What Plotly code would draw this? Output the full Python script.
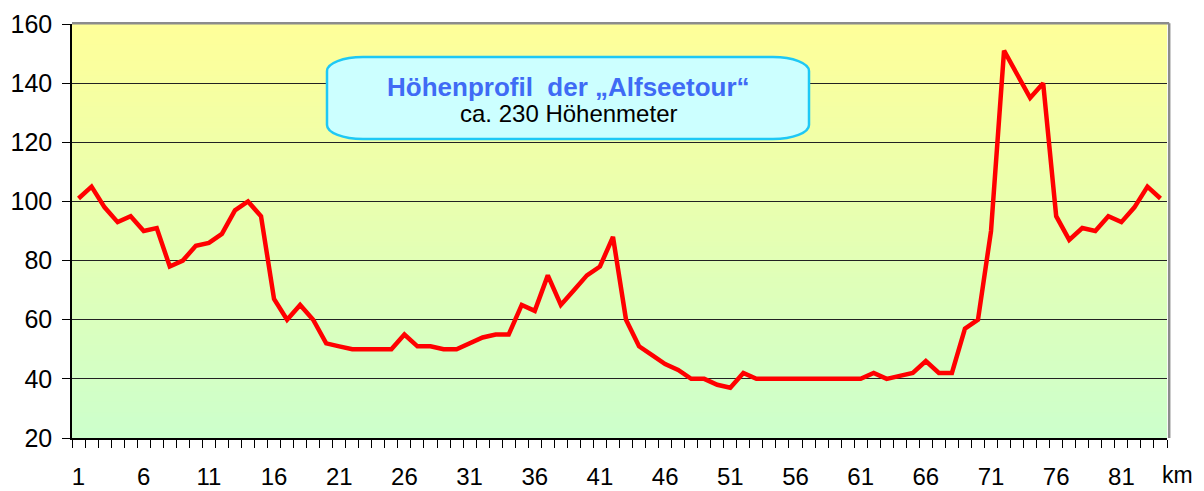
import plotly.graph_objects as go

# ---- data ----
km = list(range(1, 85))
elevation = [101, 105, 98, 93, 95, 90, 91, 78, 80, 85,
             86, 89, 97, 100, 95, 67, 60, 65, 60, 52,
             51, 50, 50, 50, 50, 55, 51, 51, 50, 50,
             52, 54, 55, 55, 65, 63, 75, 65, 70, 75,
             78, 88, 60, 51, 48, 45, 43, 40, 40, 38,
             37, 42, 40, 40, 40, 40, 40, 40, 40, 40,
             40, 42, 40, 41, 42, 46, 42, 42, 57, 60,
             90, 151, 143, 135, 140, 95, 87, 91, 90, 95,
             93, 98, 105, 101]
x_tick_vals = list(range(1, 85, 5))
x_tick_text = [str(v) for v in x_tick_vals]
y_ticks = [20, 40, 60, 80, 100, 120, 140, 160]
title_main = "Höhenprofil  der „Alfseetour“"
title_sub = "ca. 230 Höhenmeter"

# page body has an 8px margin: figure is made 8px smaller and margins reduced
OFF = 8
W, H = 1204 - OFF, 491 - OFF
L, R, T, B = 72 - OFF, 37, 24 - OFF, 53
PW, PH = W - L - R, H - T - B

# helpers converting screen pixels (of the 1204x491 window) to paper coords
def pxx(X):
    return (X - OFF - L) / PW

def pxy(Y):
    return (H - B - (Y - OFF)) / PH

FONT = "Liberation Sans, Arial, sans-serif"

fig = go.Figure()
fig.add_trace(go.Scatter(x=km, y=elevation, mode="lines",
                         line=dict(color="#FF0000", width=4.5),
                         hoverinfo="x+y", showlegend=False))

shapes = []
# vertical gradient background (yellow top -> light green bottom)
n = 80
top = (255, 255, 153)
bot = (204, 255, 204)
for i in range(n):
    f = (i + 0.5) / n  # 0 bottom -> 1 top
    r = round(bot[0] + (top[0] - bot[0]) * f)
    g = round(bot[1] + (top[1] - bot[1]) * f)
    b = round(bot[2] + (top[2] - bot[2]) * f)
    shapes.append(dict(type="rect", xref="paper", yref="paper",
                       x0=0, x1=1, y0=i / n, y1=(i + 1) / n + 0.002,
                       fillcolor=f"rgb({r},{g},{b})", line=dict(width=0),
                       layer="below"))

# grey border top and right
shapes.append(dict(type="line", xref="paper", yref="paper", x0=0, x1=1.002, y0=1.002, y1=1.002,
                   line=dict(color="#8c8c8c", width=2.5), layer="above"))
shapes.append(dict(type="line", xref="paper", yref="paper", x0=1.002, x1=1.002, y0=0, y1=1.002,
                   line=dict(color="#8c8c8c", width=2.5), layer="above"))

# rounded title box
bl, br, bt, bb = 327, 809, 57, 139
rx, ry = 36, 14
k = 0.5523
def P(X, Y):
    return f"{pxx(X):.5f},{pxy(Y):.5f}"
path = (f"M {P(bl + rx, bt)} L {P(br - rx, bt)} "
        f"C {P(br - rx + rx * k, bt)} {P(br, bt + ry - ry * k)} {P(br, bt + ry)} "
        f"L {P(br, bb - ry)} "
        f"C {P(br, bb - ry + ry * k)} {P(br - rx + rx * k, bb)} {P(br - rx, bb)} "
        f"L {P(bl + rx, bb)} "
        f"C {P(bl + rx - rx * k, bb)} {P(bl, bb - ry + ry * k)} {P(bl, bb - ry)} "
        f"L {P(bl, bt + ry)} "
        f"C {P(bl, bt + ry - ry * k)} {P(bl + rx - rx * k, bt)} {P(bl + rx, bt)} Z")
shapes.append(dict(type="path", xref="paper", yref="paper", path=path,
                   fillcolor="#CCFFFF", line=dict(color="#1EC8F5", width=2.5),
                   layer="above"))

annotations = [
    dict(text=f"<b>{title_main}</b>", xref="paper", yref="paper",
         x=pxx(568), y=pxy(87), xanchor="center", yanchor="middle",
         showarrow=False, font=dict(family=FONT, size=26, color="#3F6BF5")),
    dict(text=title_sub, xref="paper", yref="paper",
         x=pxx(568), y=pxy(114), xanchor="center", yanchor="middle",
         showarrow=False, font=dict(family=FONT, size=24, color="#000000")),
    dict(text="km", xref="paper", yref="paper",
         x=pxx(1177), y=pxy(475), xanchor="center", yanchor="middle",
         showarrow=False, font=dict(family=FONT, size=23, color="#000000")),
]

fig.update_layout(
    width=W, height=H,
    autosize=False,
    margin=dict(l=L, r=R, t=T, b=B, pad=0, autoexpand=False),
    paper_bgcolor="white",
    plot_bgcolor="rgba(0,0,0,0)",
    shapes=shapes,
    annotations=annotations,
    font=dict(family=FONT, size=23, color="#000000"),
    xaxis=dict(range=[0.5, 84.5], tickmode="array", tickvals=x_tick_vals,
               ticktext=x_tick_text, ticks="", showgrid=False, zeroline=False,
               showline=True, linecolor="#000000", linewidth=1.5,
               ticklabelstandoff=16, automargin=False,
               minor=dict(tickmode="array", tickvals=[v + 0.5 for v in range(0, 85)],
                          ticks="outside", ticklen=8, tickcolor="#000000",
                          tickwidth=1, showgrid=False),
               tickfont=dict(family=FONT, size=24, color="#000000"),
               fixedrange=True),
    yaxis=dict(range=[20, 160], tickmode="array", tickvals=y_ticks,
               ticks="outside", ticklen=8, tickcolor="#000000", tickwidth=1,
               showgrid=True, gridcolor="#222222", gridwidth=1,
               zeroline=False, showline=True, linecolor="#000000", linewidth=1.5,
               ticklabelstandoff=5, automargin=False,
               tickfont=dict(family=FONT, size=25, color="#000000"),
               fixedrange=True),
)

fig.write_html("out.html")
